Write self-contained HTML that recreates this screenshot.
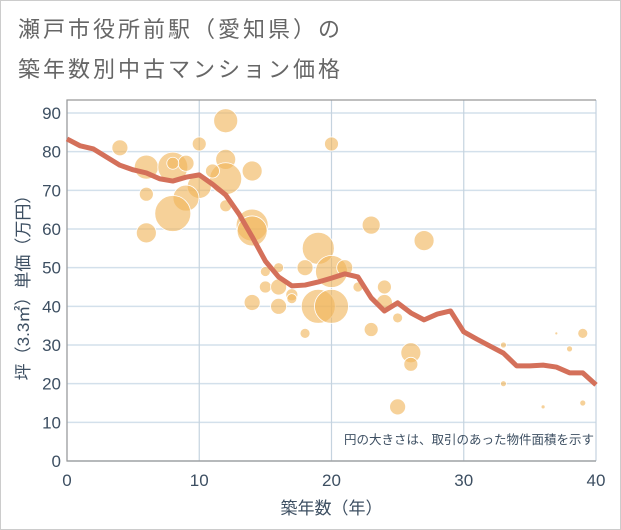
<!DOCTYPE html>
<html><head><meta charset="utf-8"><style>
body{margin:0;background:#fff;}
#wrap{position:relative;width:619px;height:528px;border:1px solid #ccc;background:#fff;overflow:hidden;}
.t{position:absolute;left:17px;font-family:"Liberation Sans","Noto Sans CJK JP",sans-serif;font-size:22px;line-height:28px;color:#666;letter-spacing:3px;}
</style></head><body>
<div id="wrap">
<div class="t" style="top:15px">瀬戸市役所前駅（愛知県）の</div>
<div class="t" style="top:55px">築年数別中古マンション価格</div>
<svg id="chart" width="621" height="530" style="position:absolute;left:-1px;top:-1px"></svg>
</div>
<script>
const xTicks=[0,10,20,30,40];
const yTicks=[0,10,20,30,40,50,60,70,80,90];
const lineX=[0,1,2,3,4,5,6,7,8,9,10,11,12,13,14,15,16,17,18,19,20,21,22,23,24,25,26,27,28,29,30,31,32,33,34,35,36,37,38,39,40];
const lineY=[83.3,81.5,80.7,78.6,76.5,75.3,74.5,73,72.4,73.4,74,71.6,68.8,63.9,58,51.7,47.6,45.3,45.5,46.3,47.3,48.4,47.6,42.2,38.8,40.9,38.3,36.5,38,38.8,33.4,31.5,29.7,27.9,24.6,24.6,24.8,24.3,22.8,22.8,19.7];
const bubX=[4,12,10,20,6,8,9,8,12,12,10,9,11,14,6,12,8,6,14,14,19,20,21,18,16,15,15,16,17,17,14,16,19,20,18,22,23,27,24,24,25,23,26,26,25,33,33,37,39,38,36,39,37];
const bubY=[81,88,82,82,76,76,77,77,78,73,71,68,75,75,69,66,64,59,61,59.5,55,49,50,50,50,49,45,45,43,42,41,40,40,40,33,45,61,57,45,41,37,34,28,25,14,30,20,33,33,29,14,15,24];
const bubR=[8,12,7,7,12,15,8,6,10,16,12,13,7,10,7,6,18,10,16,15,16,16,8,8,5,5,6,8,6,5,8,8,17,17,5,5,9,10,7,8,5,7,10,7,8,3,3,1.5,5,3,2,3,1.5];
const svg=document.getElementById('chart');
const NS='http://www.w3.org/2000/svg';
const X0=67,X1=596,Y0=461,Y1=100;
const sx=v=>X0+(X1-X0)*v/40;
const sy=v=>Y0-(Y0-113)*v/90;
function mk(tag,attrs){const e=document.createElementNS(NS,tag);for(const k in attrs)e.setAttribute(k,attrs[k]);svg.appendChild(e);return e;}
yTicks.forEach(v=>{
 const g=mk('line',{x1:X0,x2:X1,y1:sy(v),y2:sy(v),stroke:'#d3e0eb','stroke-width':1.5});
 
 
 const t=mk('text',{x:X0-6,y:sy(v)+6,'text-anchor':'end','font-size':17,fill:'#3d4f62','font-family':'Liberation Sans, sans-serif'});
 t.textContent=v;
 
 
});
xTicks.forEach(v=>{
 const g=mk('line',{x1:sx(v),x2:sx(v),y1:Y1,y2:Y0,stroke:'#c5d3df','stroke-width':1.2});
 
 
 const t=mk('text',{x:sx(v),y:Y0+25,'text-anchor':'middle','font-size':17,fill:'#3d4f62','font-family':'Liberation Sans, sans-serif'});
 t.textContent=v;
 
 
});
const ax=mk('path',{d:`M${X1} ${Y1}H${X0}V${Y0}H${X1}`,fill:'none',stroke:'#999','stroke-width':1.2});


bubX.forEach((x,i)=>{
 const c=mk('circle',{cx:sx(x),cy:sy(bubY[i]),r:bubR[i],fill:'#f0b55a','fill-opacity':0.62,stroke:'#fff','stroke-width':0.8});
 
 
});
const pl=mk('polyline',{points:lineX.map((x,i)=>sx(x)+','+sy(lineY[i])).join(' '),fill:'none',stroke:'#d4705a','stroke-width':5,'stroke-linejoin':'round'});


const note=mk('text',{x:594,y:444,'text-anchor':'end','font-size':12.5,fill:'#3d4f62','font-family':'Liberation Sans, Noto Sans CJK JP, sans-serif'});
note.textContent='円の大きさは、取引のあった物件面積を示す';


const xt=mk('text',{x:(X0+X1)/2,y:514,'text-anchor':'middle','font-size':17,fill:'#3d4f62','font-family':'Liberation Sans, Noto Sans CJK JP, sans-serif'});
xt.textContent='築年数（年）';


const yt=mk('text',{x:0,y:0,'text-anchor':'middle','font-size':17,fill:'#3d4f62','font-family':'Liberation Sans, Noto Sans CJK JP, sans-serif',transform:`translate(29,${(Y1+Y0)/2+3}) rotate(-90)`});
yt.textContent='坪（3.3㎡）単価（万円）';


</script>
</body></html>
